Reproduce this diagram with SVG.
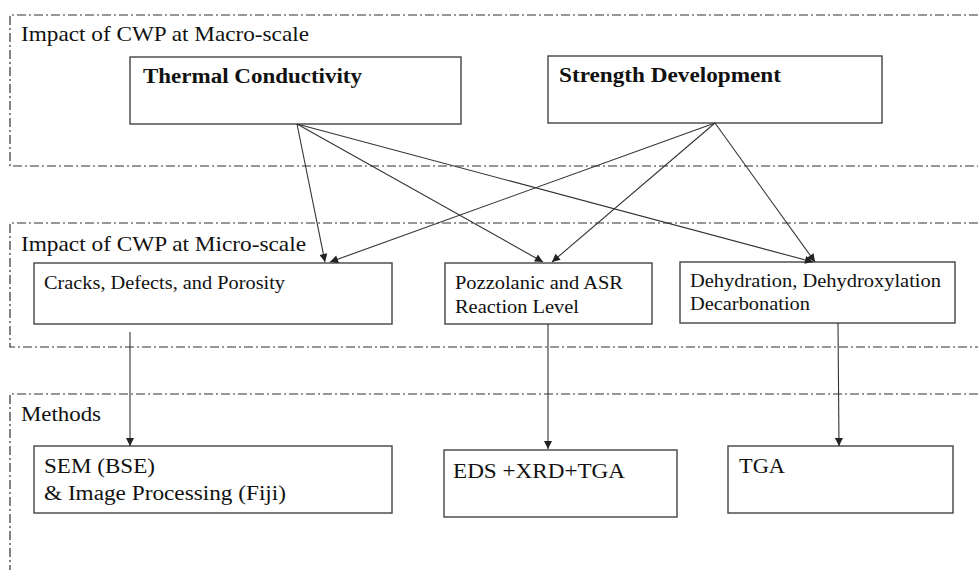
<svg xmlns="http://www.w3.org/2000/svg" width="978" height="570" viewBox="0 0 978 570">
  <defs>
    <marker id="ah" viewBox="0 0 10 10" refX="10" refY="5" markerWidth="9" markerHeight="8" markerUnits="userSpaceOnUse" orient="auto">
      <path d="M0,0 L10,5 L0,10 z" fill="#222"/>
    </marker>
    <style>
      .region { fill: none; stroke: #333; stroke-width: 1.2; stroke-dasharray: 9 3 2 3; }
      .box { fill: #fff; stroke: #444; stroke-width: 1.4; }
      .lbl { font-family: "Liberation Serif", "Times New Roman", serif; fill: #111; }
      .hdr { font-size: 21px; }
      .bold { font-size: 20px; font-weight: bold; }
      .mid { font-size: 18px; }
      .big { font-size: 20px; }
      .conn { fill: none; stroke: #333; stroke-width: 1.1; marker-end: url(#ah); }
      .plain { fill: none; stroke: #333; stroke-width: 1.1; }
    </style>
  </defs>
  <rect width="978" height="570" fill="#fff"/>

  <g id="region-macro">
    <path class="region" d="M978,15 H10 V166 H978"/>
    <text class="lbl hdr" x="21" y="41" textLength="288" lengthAdjust="spacingAndGlyphs">Impact of CWP at Macro-scale</text>
  </g>
  <g id="region-micro">
    <path class="region" d="M978,223 H10 V347 H978"/>
    <text class="lbl hdr" x="21" y="251" textLength="285" lengthAdjust="spacingAndGlyphs">Impact of CWP at Micro-scale</text>
  </g>
  <g id="region-methods">
    <path class="region" d="M978,394 H10 V570"/>
    <text class="lbl hdr" x="21" y="421" textLength="80" lengthAdjust="spacingAndGlyphs">Methods</text>
  </g>

  <g id="node-thermal">
    <rect class="box" x="130" y="57" width="331" height="67"/>
    <text class="lbl bold" x="143" y="83" textLength="219" lengthAdjust="spacingAndGlyphs">Thermal Conductivity</text>
  </g>
  <g id="node-strength">
    <rect class="box" x="548" y="56" width="334" height="67"/>
    <text class="lbl bold" x="559" y="82" textLength="222" lengthAdjust="spacingAndGlyphs">Strength Development</text>
  </g>

  <g id="node-cracks">
    <rect class="box" x="34" y="263" width="358" height="61"/>
    <text class="lbl mid" x="44" y="289" textLength="241" lengthAdjust="spacingAndGlyphs">Cracks, Defects, and Porosity</text>
  </g>
  <g id="node-pozzolanic">
    <rect class="box" x="445" y="263" width="207" height="61"/>
    <text class="lbl mid" x="455" y="289" textLength="168" lengthAdjust="spacingAndGlyphs">Pozzolanic and ASR</text>
    <text class="lbl mid" x="455" y="313" textLength="124" lengthAdjust="spacingAndGlyphs">Reaction Level</text>
  </g>
  <g id="node-dehydration">
    <rect class="box" x="680" y="262" width="275" height="61"/>
    <text class="lbl mid" x="690" y="287" textLength="251" lengthAdjust="spacingAndGlyphs">Dehydration, Dehydroxylation</text>
    <text class="lbl mid" x="690" y="310" textLength="120" lengthAdjust="spacingAndGlyphs">Decarbonation</text>
  </g>

  <g id="node-sem">
    <rect class="box" x="34" y="446" width="358" height="67"/>
    <text class="lbl big" x="44" y="473" textLength="111" lengthAdjust="spacingAndGlyphs">SEM (BSE)</text>
    <text class="lbl big" x="44" y="500" textLength="242" lengthAdjust="spacingAndGlyphs">&amp; Image Processing (Fiji)</text>
  </g>
  <g id="node-eds">
    <rect class="box" x="444" y="450" width="233" height="67"/>
    <text class="lbl big" x="453" y="478" textLength="172" lengthAdjust="spacingAndGlyphs">EDS +XRD+TGA</text>
  </g>
  <g id="node-tga">
    <rect class="box" x="728" y="446" width="225" height="67"/>
    <text class="lbl big" x="739" y="473" textLength="46" lengthAdjust="spacingAndGlyphs">TGA</text>
  </g>

  <g id="connectors">
    <line class="conn" x1="297" y1="124" x2="325" y2="262"/>
    <line class="conn" x1="297" y1="124" x2="543" y2="262"/>
    <line class="conn" x1="297" y1="124" x2="813" y2="262"/>
    <line class="conn" x1="715" y1="123" x2="330" y2="262"/>
    <line class="conn" x1="715" y1="123" x2="552" y2="262"/>
    <line class="conn" x1="715" y1="123" x2="815" y2="262"/>
    <line class="conn" x1="130" y1="332" x2="130" y2="446"/>
    <line class="conn" x1="548" y1="324" x2="548" y2="449"/>
    <line class="conn" x1="838" y1="323" x2="839" y2="446"/>
  </g>
</svg>
